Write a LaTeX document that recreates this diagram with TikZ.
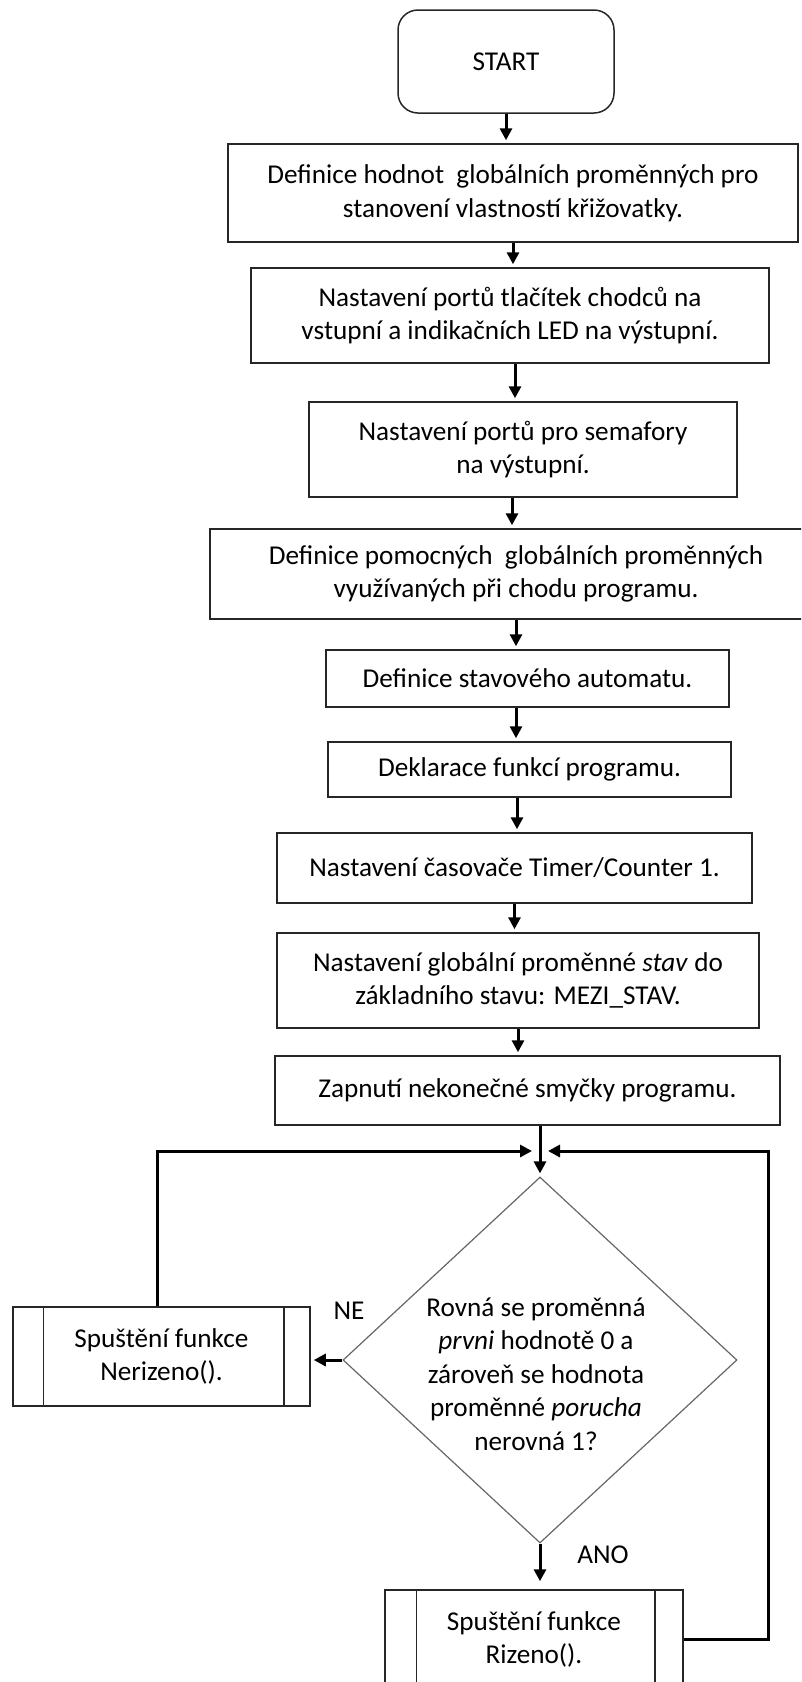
\documentclass[tikz,border=0pt]{standalone}
\usepackage{fontspec}
\setmainfont{Carlito}
\usetikzlibrary{arrows.meta,shapes.geometric}
\newcommand\flowfont{\fontsize{27.2}{33.5}\selectfont}
\begin{document}
\begin{tikzpicture}[x=1pt,y=-1pt,
  every node/.style={font=\flowfont, text=black},
  rule/.style={draw=black!85, line width=1.5pt},
  box/.style={rule, inner sep=0pt, align=center},
  flow/.style={line width=3pt, -{Triangle[length=12pt,width=12pt]}, shorten >=3pt},
  label/.style={inner sep=0pt}]
\useasboundingbox (0,0) rectangle (801,1682);
\clip (0,0) rectangle (801,1682);

% sequential part
\node[box, rounded corners=20pt, minimum width=216, minimum height=103] (start) at (506,61.5) {START};
\node[box, minimum width=570, minimum height=98] (b1) at (513,193)
  {Definice hodnot\ \ globálních proměnných pro\\stanovení vlastností křižovatky.};
\node[box, minimum width=518, minimum height=95] (b2) at (510,315.5)
  {Nastavení portů tlačítek chodců na\\vstupní a indikačních LED na výstupní.};
\node[box, minimum width=428, minimum height=95] (b3) at (523,449.5)
  {Nastavení portů pro semafory\\na výstupní.};
\node[box, minimum width=612, minimum height=90] (b4) at (516,574)
  {Definice pomocných\ \ globálních proměnných\\využívaných při chodu programu.};
\node[box, minimum width=403, minimum height=57] (b5) at (527.5,678.5)
  {Definice stavového automatu.};
\node[box, minimum width=403, minimum height=55] (b6) at (529.5,769.5)
  {Deklarace funkcí programu.};
\node[box, minimum width=475, minimum height=70] (b7) at (514.5,868)
  {Nastavení časovače Timer/Counter 1.};
\node[box, minimum width=482, minimum height=95] (b8) at (518,980.5)
  {Nastavení globální proměnné \textit{stav} do\\základního stavu: MEZI\_STAV.};
\node[box, minimum width=505, minimum height=69] (b9) at (527.5,1090.5)
  {Zapnutí nekonečné smyčky programu.};

% decision
\node[diamond, draw=black!60, line width=1.2pt, inner sep=0pt,
      minimum width=394, minimum height=366] (dia) at (540,1360) {};
\node[label, align=center] (cond) at (536,1374)
  {Rovná se proměnná\\\textit{prvni} hodnotě 0 a\\zároveň se hodnota\\proměnné \textit{porucha}\\nerovná 1?};

% subroutine calls
\node[box, minimum width=297, minimum height=99] (ner) at (161.5,1356.5)
  {Spuštění funkce\\Nerizeno().};
\draw[rule] ([xshift=31]ner.north west) -- ([xshift=31]ner.south west);
\draw[rule] ([xshift=-27]ner.north east) -- ([xshift=-27]ner.south east);
\node[box, minimum width=298, minimum height=99] (riz) at (534,1639.5)
  {Spuštění funkce\\Rizeno().};
\draw[rule] ([xshift=32]riz.north west) -- ([xshift=32]riz.south west);
\draw[rule] ([xshift=-29]riz.north east) -- ([xshift=-29]riz.south east);

\node[label] (ne) at (349,1311) {NE};
\node[label] (ano) at (603,1555) {ANO};

% connectors
\draw[flow] (start.south) -- (start.south |- b1.north);
\draw[flow] (b1.south) -- (b1.south |- b2.north);
\draw[flow] ([xshift=5]b2.south) -- ([xshift=5]b2.south |- b3.north);
\draw[flow] ([xshift=-11]b3.south) -- ([xshift=-11]b3.south |- b4.north);
\draw[flow] (b4.south) -- (b4.south |- b5.north);
\draw[flow] ([xshift=-11.5]b5.south) -- ([xshift=-11.5]b5.south |- b6.north);
\draw[flow] ([xshift=-12.5]b6.south) -- ([xshift=-12.5]b6.south |- b7.north);
\draw[flow] (b7.south) -- (b7.south |- b8.north);
\draw[flow] (b8.south) -- (b8.south |- b9.north);
\draw[flow] (b9.south -| dia.north) -- (dia.north);

\draw[flow] (dia.west) -- (ner.east |- dia.west);
\draw[flow, shorten >=8pt] (dia.south) -- (dia.south |- riz.north);

% loop back to the decision
\coordinate (inL) at (532,1151);
\coordinate (inR) at (548,1151);
\coordinate (loopL) at (157,1151);
\coordinate (loopR) at (768,1151);
\draw[flow, shorten >=0pt] ([xshift=-4.5]ner.north) -- (loopL) -- (inL);
\draw[flow, shorten >=0pt] (riz.east) -| (loopR) -- (inR);
\end{tikzpicture}
\end{document}
